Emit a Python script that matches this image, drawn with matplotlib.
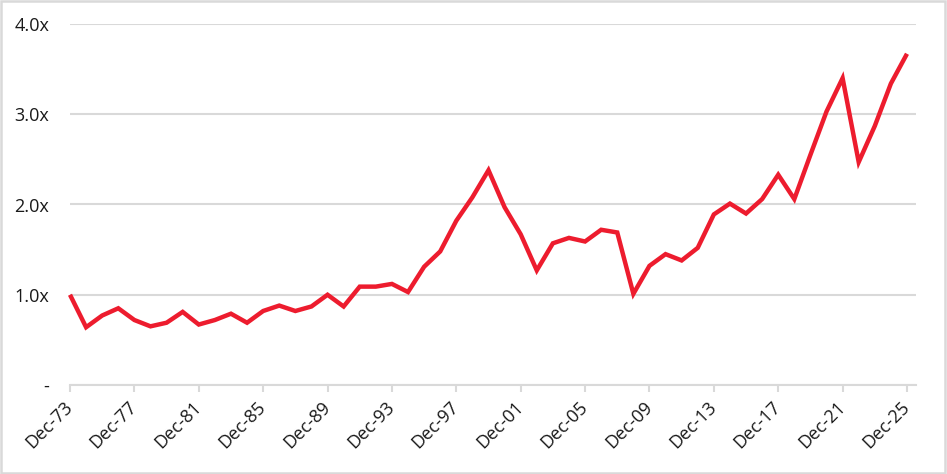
import matplotlib.pyplot as plt
from matplotlib.patches import Rectangle

# Múltiplo anual (dezembro de cada ano)
years = list(range(1973, 2026))
values = [1.00, 0.64, 0.77, 0.85, 0.72, 0.65, 0.69, 0.81, 0.67, 0.72,
          0.79, 0.69, 0.82, 0.88, 0.82, 0.87, 1.00, 0.87, 1.09, 1.09,
          1.12, 1.03, 1.31, 1.48, 1.82, 2.08, 2.38, 1.97, 1.67, 1.27,
          1.57, 1.63, 1.59, 1.72, 1.69, 1.01, 1.32, 1.45, 1.38, 1.52,
          1.89, 2.01, 1.90, 2.06, 2.33, 2.06, 2.55, 3.03, 3.40, 2.47,
          2.87, 3.34, 3.67]
tick_years = list(range(1973, 2026, 4))
tick_labels = ['Dec-%02d' % (y % 100) for y in tick_years]
y_ticks = [0, 1, 2, 3, 4]
y_labels = ['-', '1.0x', '2.0x', '3.0x', '4.0x']

plt.rcParams['font.family'] = ['Open Sans', 'DejaVu Sans']

fig = plt.figure(figsize=(9.47, 4.74), dpi=100)
ax = fig.add_axes([70 / 947, 89 / 474, 846 / 947, 361 / 474])

ax.plot(years, values, color='#ed1c2e', linewidth=3.2, solid_joinstyle='miter',
        solid_capstyle='butt', clip_on=False, zorder=3)

ax.set_xlim(1973, 2025.56)
ax.set_ylim(0, 4)
ax.set_yticks(y_ticks)
ax.set_yticklabels(y_labels, fontsize=13, color='#1a1a1a')
ax.set_xticks(tick_years)
ax.set_xticklabels(tick_labels, rotation=45, ha='right', va='center',
                   rotation_mode='anchor', fontsize=13, color='#1a1a1a')

ax.grid(axis='y', color='#d9d9d9', linewidth=1.5)
ax.set_axisbelow(True)
for s in ['top', 'right', 'left']:
    ax.spines[s].set_visible(False)
ax.spines['bottom'].set_color('#d9d9d9')
ax.spines['bottom'].set_linewidth(1.5)
ax.tick_params(axis='y', length=0, pad=15)
ax.tick_params(axis='x', length=5, width=1.5, color='#d9d9d9', pad=9)

# Moldura cinza em volta da figura
fig.patches.append(Rectangle((0.001, 0.002), 0.997, 0.995, transform=fig.transFigure,
                             fill=False, edgecolor='#d9d9d9', linewidth=1.8))

plt.savefig('out.png', dpi=100)
